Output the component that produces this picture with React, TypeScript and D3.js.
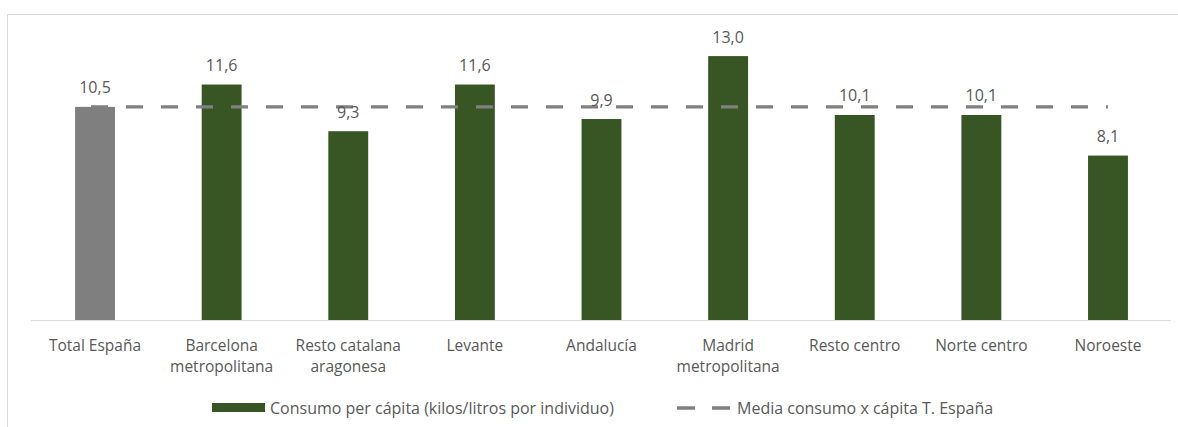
import React from "react";
import * as d3 from "d3";

const categories: string[][] = [
  ["Total España"],
  ["Barcelona", "metropolitana"],
  ["Resto catalana", "aragonesa"],
  ["Levante"],
  ["Andalucía"],
  ["Madrid", "metropolitana"],
  ["Resto centro"],
  ["Norte centro"],
  ["Noroeste"],
];
const values: number[] = [10.5, 11.6, 9.3, 11.6, 9.9, 13.0, 10.1, 10.1, 8.1];
const average: number = 10.5;
const legendBar = "Consumo per cápita (kilos/litros por individuo)";
const legendLine = "Media consumo x cápita T. España";

const W = 1178;
const H = 427;
const FONT = "'Open Sans', 'Liberation Sans', sans-serif";
const TXT = "#595959";

export default function App() {
  const keys = categories.map((c) => c.join(" "));
  const x = d3.scaleBand<string>().domain(keys).range([31.7, 1171.3]).paddingInner(0.685).paddingOuter(0.3425);
  const y = d3.scaleLinear().domain([0, 14]).range([320, 35.8]);
  const fmt = (v: number) => d3.format(".1f")(v).replace(".", ",");
  const line = d3.line<number>()
    .x((_, i) => x(keys[i])! + x.bandwidth() / 2 - (i === 0 ? 4 : 0))
    .y(() => y(average));
  return (
    <svg width={W} height={H} style={{ position: "absolute", left: 0, top: 0 }} fontFamily={FONT}>
      <rect x={0} y={0} width={W} height={H} fill="#fff" />
      <rect x={7.5} y={14.5} width={W + 10} height={H} fill="none" stroke="#d9d9d9" strokeWidth={1} />
      {values.map((v, i) => (
        <rect key={i} x={x(keys[i])} y={y(v)} width={x.bandwidth()} height={y(0) - y(v)} fill={i === 0 ? "#7f7f7f" : "#375623"} />
      ))}
      <line x1={31} x2={1171} y1={320.5} y2={320.5} stroke="#d9d9d9" strokeWidth={1} />
      <path d={line(values) || ""} fill="none" stroke="#808080" strokeWidth={3.3} strokeDasharray="17 18" />
      {values.map((v, i) => (
        <text key={i} x={x(keys[i])! + x.bandwidth() / 2} y={y(v) - 13.5} textAnchor="middle" fontSize={16} fill={TXT}>{fmt(v)}</text>
      ))}
      {categories.map((lines, i) => (
        <text key={i} x={x(keys[i])! + x.bandwidth() / 2} y={351} textAnchor="middle" fontSize={15.5} fill={TXT}>
          {lines.map((l, j) => (
            <tspan key={j} x={x(keys[i])! + x.bandwidth() / 2} dy={j === 0 ? 0 : 21}>{l}</tspan>
          ))}
        </text>
      ))}
      <rect x={212} y={403} width={53} height={9} fill="#375623" />
      <text x={270} y={413.5} fontSize={16} fill={TXT}>{legendBar}</text>
      <line x1={677} x2={732} y1={408} y2={408} stroke="#808080" strokeWidth={3.3} strokeDasharray="18 17" />
      <text x={737} y={413.5} fontSize={16} fill={TXT}>{legendLine}</text>
    </svg>
  );
}
